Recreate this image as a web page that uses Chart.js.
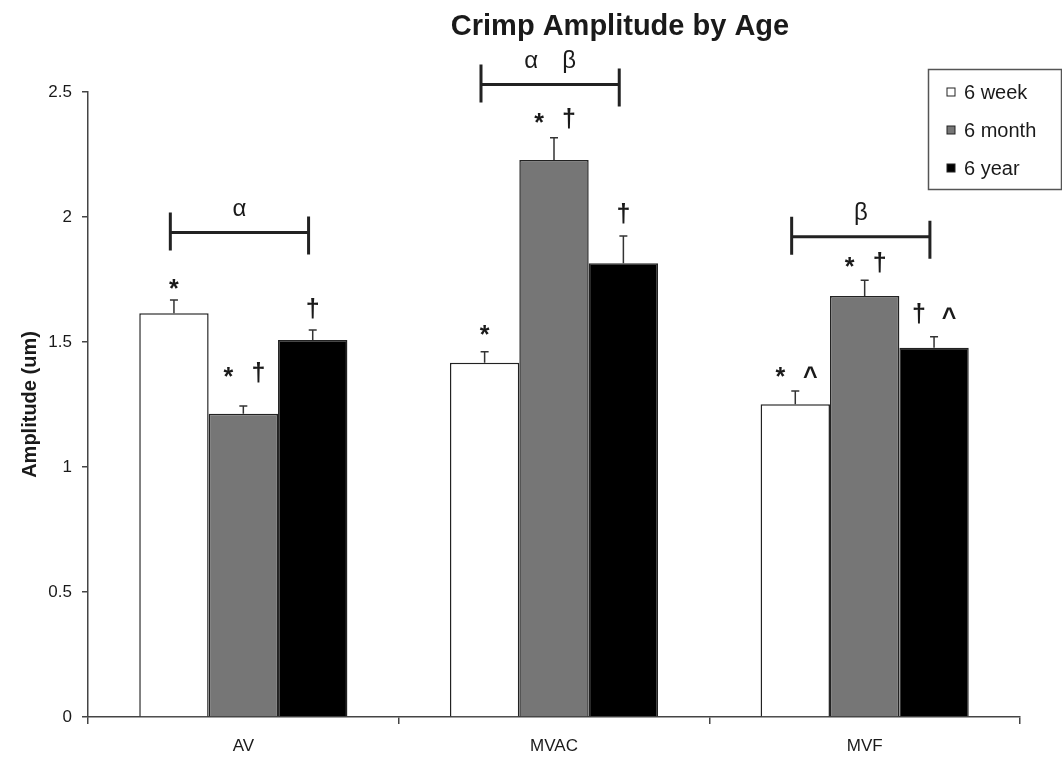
<!DOCTYPE html>
<html>
<head>
<meta charset="utf-8">
<script src="https://cdn.jsdelivr.net/npm/chart.js@4.4.1/dist/chart.umd.min.js"></script>
<style>
  html, body { margin: 0; padding: 0; background: #fff; }
  #wrap { width: 1062px; height: 758px; }
</style>
</head>
<body>
<div id="wrap"><canvas id="chart1"></canvas></div>
<script>
  "use strict";

  // data
  var categories = ['AV', 'MVAC', 'MVF'];
  var seriesNames = ['6 week', '6 month', '6 year'];
  var week6 = [1.615, 1.417, 1.251];
  var month6 = [1.213, 2.228, 1.684];
  var year6 = [1.508, 1.815, 1.477];
  var week6Err = [0.053, 0.044, 0.053];
  var month6Err = [0.031, 0.089, 0.063];
  var year6Err = [0.040, 0.109, 0.044];

  // significance symbols above each bar, and the value where they sit
  var week6Marks = ['*', '*', '* ^'];
  var month6Marks = ['* †', '* †', '* †'];
  var year6Marks = ['†', '†', '† ^'];
  var week6MarkAt = [1.732, 1.548, 1.38];
  var month6MarkAt = [1.38, 2.396, 1.82];
  var year6MarkAt = [1.636, 2.016, 1.616];

  // brackets over each group
  var bracketLabels = ['α', 'α β', 'β'];
  var bracketAt = [1.938, 2.53, 1.921];

  var FONT = "'Liberation Sans', Arial, sans-serif";
  var INK = '#1a1a1a';

  function drawGlyphs(c, text, cx, cy, gap) {
    var parts = text.split(' ');
    parts.forEach(function(g, k) {
      var m = c.measureText(g);
      var gx = cx + (k - (parts.length - 1) / 2) * gap;
      var by = cy + (m.actualBoundingBoxAscent - m.actualBoundingBoxDescent) / 2;
      c.fillText(g, gx, by);
    });
  }

  var extras = {
    id: 'extras',
    afterDatasetsDraw: function(chart) {
      var c = chart.ctx, xs = chart.scales.x, ys = chart.scales.y;
      var errs = [week6Err, month6Err, year6Err];
      var marks = [week6Marks, month6Marks, year6Marks];
      var markAt = [week6MarkAt, month6MarkAt, year6MarkAt];
      c.save();

      // upper error bars
      c.strokeStyle = '#333';
      c.lineWidth = 1.5;
      errs.forEach(function(e, i) {
        var meta = chart.getDatasetMeta(i);
        var vals = chart.data.datasets[i].data;
        meta.data.forEach(function(bar, j) {
          var top = ys.getPixelForValue(vals[j] + e[j]);
          c.beginPath();
          c.moveTo(bar.x, bar.y);
          c.lineTo(bar.x, top);
          c.moveTo(bar.x - 4, top);
          c.lineTo(bar.x + 4, top);
          c.stroke();
        });
      });

      // * † ^ symbols
      c.fillStyle = INK;
      c.textAlign = 'center';
      c.textBaseline = 'alphabetic';
      c.font = 'bold 25px ' + FONT;
      marks.forEach(function(mk, i) {
        var meta = chart.getDatasetMeta(i);
        meta.data.forEach(function(bar, j) {
          drawGlyphs(c, mk[j], bar.x, ys.getPixelForValue(markAt[i][j]), 30);
        });
      });

      // brackets with greek letters
      c.strokeStyle = '#222';
      c.lineWidth = 3;
      c.font = '24px ' + FONT;
      bracketAt.forEach(function(v, j) {
        var xl = xs.getPixelForValue(j - 0.235);
        var xr = xs.getPixelForValue(j + 0.21);
        var yb = ys.getPixelForValue(v);
        c.beginPath();
        c.moveTo(xl, yb); c.lineTo(xr, yb);
        c.moveTo(xl, yb - 20); c.lineTo(xl, yb + 18);
        c.moveTo(xr, yb - 16); c.lineTo(xr, yb + 22);
        c.stroke();
        var parts = bracketLabels[j].split(' ');
        parts.forEach(function(g, k) {
          c.fillText(g, (xl + xr) / 2 + (k - (parts.length - 1) / 2) * 38, yb - 17);
        });
      });
      c.restore();
    },
    afterDraw: function(chart) {
      var c = chart.ctx, area = chart.chartArea;
      c.save();
      // title
      c.fillStyle = INK;
      c.textAlign = 'center';
      c.textBaseline = 'alphabetic';
      c.font = 'bold 29px ' + FONT;
      c.fillText('Crimp Amplitude by Age', area.left + 532, 35);

      // legend box
      var bx = 928, by = 69, bw = chart.width - bx - 1, bh = 120;
      c.strokeStyle = '#555';
      c.lineWidth = 1.5;
      c.strokeRect(bx + 0.5, by + 0.5, bw, bh);
      c.font = '20px ' + FONT;
      c.textAlign = 'left';
      c.textBaseline = 'middle';
      chart.data.datasets.forEach(function(ds, i) {
        var cy = by + 23 + i * 38;
        c.fillStyle = ds.backgroundColor;
        c.fillRect(bx + 19, cy - 4, 8, 8);
        c.strokeStyle = '#222';
        c.lineWidth = 1;
        c.strokeRect(bx + 19, cy - 4, 8, 8);
        c.fillStyle = INK;
        c.fillText(ds.label, bx + 36, cy + 1);
      });
      c.restore();
    }
  };

  var ctx = document.getElementById('chart1').getContext('2d');

  var myChart = new Chart(ctx, {
    type: 'bar',
    data: {
      labels: categories,
      datasets: [{
        label: seriesNames[0],
        data: week6,
        backgroundColor: '#ffffff',
        borderColor: '#222',
        borderWidth: 1.5
      }, {
        label: seriesNames[1],
        data: month6,
        backgroundColor: '#767676',
        borderColor: '#222',
        borderWidth: 1.5
      }, {
        label: seriesNames[2],
        data: year6,
        backgroundColor: '#000000',
        borderColor: '#222',
        borderWidth: 1.5
      }]
    },
    options: {
      responsive: true,
      maintainAspectRatio: false,
      animation: false,
      categoryPercentage: 0.67,
      barPercentage: 1.0,
      layout: {
        padding: { top: 92, right: 42, bottom: 0, left: 0 }
      },
      plugins: {
        legend: { display: false },
        title: { display: false },
        tooltip: { enabled: false }
      },
      scales: {
        x: {
          grid: {
            offset: true,
            drawOnChartArea: false,
            drawTicks: true,
            tickLength: 7,
            color: '#444',
            lineWidth: 1.5
          },
          border: { color: '#444', width: 1.5 },
          ticks: {
            color: INK,
            font: { family: FONT, size: 17 },
            padding: 12
          },
          afterFit: function(s) { s.height = 41; }
        },
        y: {
          min: 0,
          max: 2.5,
          ticks: {
            stepSize: 0.5,
            color: INK,
            font: { family: FONT, size: 17 },
            padding: 10,
            callback: function(v) { return String(v); }
          },
          grid: {
            drawOnChartArea: false,
            drawTicks: true,
            tickLength: 6,
            color: '#444',
            lineWidth: 1.5
          },
          border: { color: '#444', width: 1.5 },
          title: {
            display: true,
            text: 'Amplitude (um)',
            color: INK,
            font: { family: FONT, size: 20, weight: 'bold' },
            padding: { top: 18, bottom: 0 }
          },
          afterFit: function(s) { s.width = 88; }
        }
      }
    },
    plugins: [extras]
  });
</script>
</body>
</html>
